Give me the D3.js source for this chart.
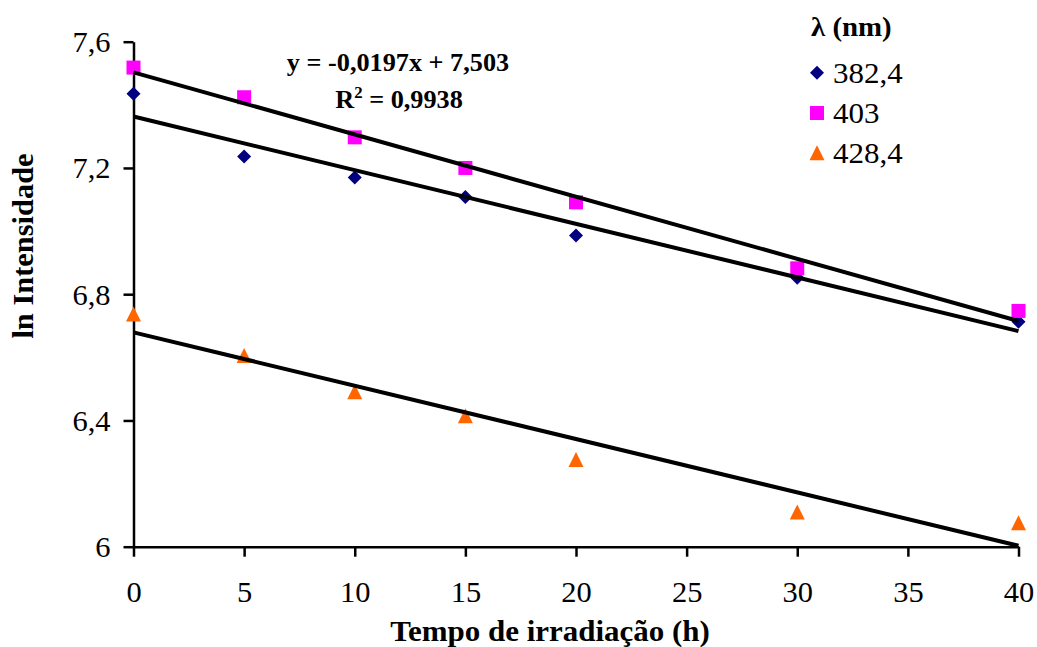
<!DOCTYPE html>
<html>
<head>
<meta charset="utf-8">
<script src="https://cdn.jsdelivr.net/npm/d3@7"></script>
<style>
  html, body { margin: 0; padding: 0; background: #fff; }
  svg { display: block; }
</style>
</head>
<body>
<svg id="chart" width="1037" height="647"></svg>
<script>
// Irradiation time (h)
const hours = [0, 5, 10, 15, 20, 30, 40];

// ln(intensity) per wavelength
const seriesNames = ["382,4", "403", "428,4"];
const ln382 = [7.435, 7.236, 7.170, 7.108, 6.986, 6.852, 6.713];
const ln403 = [7.518, 7.424, 7.297, 7.200, 7.091, 6.882, 6.747];
const ln428 = [6.737, 6.606, 6.491, 6.415, 6.276, 6.110, 6.076];

// Linear trendlines (slope, intercept) for each wavelength
const trendSlopes = [-0.0170, -0.0197, -0.0169];
const trendIntercepts = [7.363, 7.503, 6.679];

// Axis ticks
const xTicks = [0, 5, 10, 15, 20, 25, 30, 35, 40];
const yTicks = [6, 6.4, 6.8, 7.2, 7.6];
const yTickLabels = ["6", "6,4", "6,8", "7,2", "7,6"];

const equationText = "y = -0,0197x + 7,503";
const r2Value = "0,9938";

const colors = ["#000080", "#FF00FF", "#FF6600"];
const FONT = "'Liberation Serif'";
const SX = 1.05; // horizontal text stretch

const svg = d3.select("#chart");

const x = d3.scaleLinear().domain([0, 40]).range([133.5, 1018.5]);
const y = d3.scaleLinear().domain([6, 7.6]).range([546.7, 41.7]);

// Axes
const xAxis = svg.append("g")
  .attr("transform", `translate(0,${y(6)})`)
  .call(d3.axisBottom(x).tickValues(xTicks).tickSize(10).tickSizeOuter(0).tickFormat(d3.format("d")));
xAxis.select(".domain").attr("stroke", "#000").attr("stroke-width", 2.5);
xAxis.selectAll(".tick line").attr("stroke", "#000").attr("stroke-width", 2.5);
xAxis.selectAll(".tick text")
  .attr("y", 0).attr("dy", 0)
  .attr("transform", `translate(0,55) scale(${SX},1)`)
  .attr("fill", "#000")
  .style("font-size", "29px")
  .style("font-family", FONT);

const yAxis = svg.append("g")
  .attr("transform", `translate(${x(0)},0)`)
  .call(d3.axisLeft(y).tickValues(yTicks).tickSize(10).tickSizeOuter(0)
    .tickFormat((d, i) => yTickLabels[i]));
yAxis.select(".domain").attr("stroke", "#000").attr("stroke-width", 2.5);
yAxis.selectAll(".tick line").attr("stroke", "#000").attr("stroke-width", 2.5);
yAxis.selectAll(".tick text")
  .attr("x", 0).attr("dy", "0.34em")
  .attr("transform", `translate(-23,0) scale(${SX},1)`)
  .attr("fill", "#000")
  .style("font-size", "29px")
  .style("font-family", FONT);

// Marker shapes
const diamondPath = "M0,-7L7,0L0,7L-7,0Z";
const squarePath = "M-7,-7H7V7H-7Z";
const trianglePath = "M0,-7.5L7.5,7.5L-7.5,7.5Z";
const shapes = [diamondPath, squarePath, trianglePath];
const seriesValues = [ln382, ln403, ln428];

const marks = svg.append("g");
seriesValues.forEach((vals, s) => {
  marks.selectAll(null)
    .data(hours.map((h, i) => [h, vals[i]]))
    .join("path")
    .attr("d", shapes[s])
    .attr("transform", d => `translate(${x(d[0])},${y(d[1])})`)
    .attr("fill", colors[s]);
});

// Trendlines
const lines = svg.append("g");
trendSlopes.forEach((m, s) => {
  const b = trendIntercepts[s];
  lines.append("line")
    .attr("x1", x(0)).attr("y1", y(b))
    .attr("x2", x(40)).attr("y2", y(m * 40 + b))
    .attr("stroke", "#000").attr("stroke-width", 4);
});

// Helper for stretched text
function label(px, py, txt, size, weight, anchor) {
  return svg.append("text")
    .attr("transform", `translate(${px},${py}) scale(${SX},1)`)
    .attr("text-anchor", anchor || "start")
    .style("font-family", FONT)
    .style("font-size", size + "px")
    .style("font-weight", weight || "normal")
    .attr("fill", "#000")
    .text(txt);
}

// Regression equation
label(398, 71, equationText, 25, "bold", "middle");
const r2 = svg.append("text")
  .attr("transform", `translate(399,108) scale(${SX},1)`)
  .attr("text-anchor", "middle")
  .style("font-family", FONT)
  .style("font-size", "25px")
  .style("font-weight", "bold")
  .attr("fill", "#000");
r2.append("tspan").text("R");
r2.append("tspan").attr("dy", -10).style("font-size", "16px").text("2");
r2.append("tspan").attr("dy", 10).text(" = " + r2Value);

// Axis titles
label(550, 641, "Tempo de irradiação (h)", 29.5, "bold", "middle");
svg.append("text")
  .attr("transform", `translate(33,246) rotate(-90) scale(${SX},1)`)
  .attr("text-anchor", "middle")
  .style("font-family", FONT)
  .style("font-size", "29px")
  .style("font-weight", "bold")
  .attr("fill", "#000")
  .text("ln Intensidade");

// Legend
label(811, 36, "λ (nm)", 27.5, "bold", "start");
const legendY = [72.7, 113, 152.7];
seriesNames.forEach((name, s) => {
  svg.append("path")
    .attr("d", shapes[s])
    .attr("transform", `translate(817,${legendY[s]})`)
    .attr("fill", colors[s]);
  label(833, legendY[s] + 10, name, 29.5, "normal", "start");
});
</script>
</body>
</html>
